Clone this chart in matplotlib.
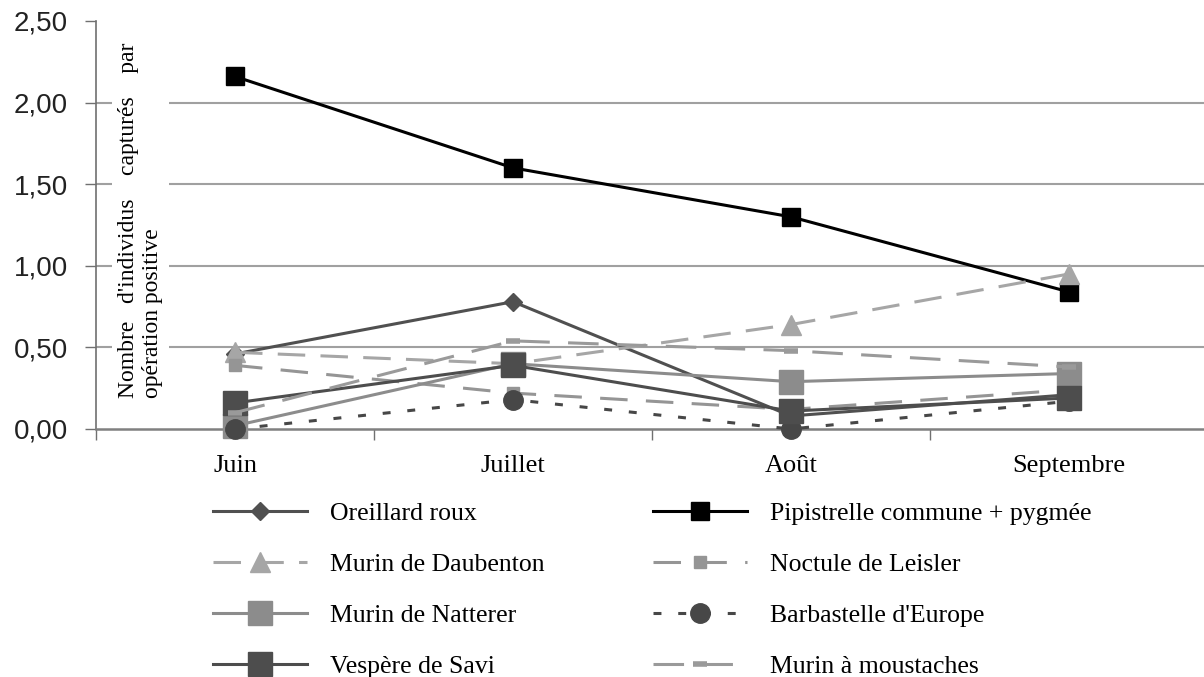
import numpy as np
import matplotlib
matplotlib.use('Agg')
import matplotlib.pyplot as plt
from matplotlib.ticker import FixedLocator, FuncFormatter

# données
mois = ['Juin', 'Juillet', 'Août', 'Septembre']
oreillard = [0.46, 0.78, 0.08, 0.21]
pipistrelle = [2.16, 1.60, 1.30, 0.84]
daubenton = [0.47, 0.40, 0.64, 0.95]
noctule = [0.39, 0.22, 0.12, 0.24]
natterer = [0.02, 0.40, 0.29, 0.34]
barbastelle = [0.00, 0.18, 0.00, 0.17]
vespere = [0.16, 0.39, 0.11, 0.19]
moustaches = [0.10, 0.54, 0.48, 0.38]

serif = 'Liberation Serif'
sans = 'Liberation Sans'

fig = plt.figure(figsize=(12.04, 6.77), dpi=100)
ax = fig.add_axes([96 / 1204, 248 / 677, 1112 / 1204, 408 / 677])
x = np.arange(len(mois))

lw = 2.2
# ordre de tracé = ordre Excel (les derniers passent dessus)
series = [
    ('Oreillard roux', oreillard, dict(color='#505050', ls='-', marker='D', ms=9)),
    ('Pipistrelle commune + pygmée', pipistrelle, dict(color='#000000', ls='-', marker='s', ms=13)),
    ('Murin de Daubenton', daubenton, dict(color='#a6a6a6', ls=(0, (9, 5)), marker='^', ms=14)),
    ('Noctule de Leisler', noctule, dict(color='#959595', ls=(0, (9, 6)), marker='s', ms=9)),
    ('Murin de Natterer', natterer, dict(color='#8c8c8c', ls='-', marker='s', ms=17)),
    ("Barbastelle d'Europe", barbastelle, dict(color='#474747', ls=(0, (2.6, 5.5)), marker='o', ms=14)),
    ('Vespère de Savi', vespere, dict(color='#4d4d4d', ls='-', marker='s', ms=17)),
    ('Murin à moustaches', moustaches, dict(color='#9a9a9a', ls=(0, (10, 6)), marker='_', ms=10, mew=4)),
]

handles = {}
for i, (nom, vals, st) in enumerate(series):
    h, = ax.plot(x, vals, lw=lw, label=nom, zorder=3 + i, clip_on=False, **st)
    handles[nom] = h

ax.set_xlim(-0.5, 3.5)
ax.set_ylim(0, 2.5)

# axe y
ax.yaxis.set_major_locator(FixedLocator([0, 0.5, 1.0, 1.5, 2.0, 2.5]))
ax.yaxis.set_major_formatter(FuncFormatter(lambda v, p: f"{v:.2f}".replace('.', ',')))
ax.tick_params(axis='y', direction='out', length=8, width=1, color='#707070', pad=12,
               labelsize=20, labelcolor='#222222')
for t in ax.get_yticklabels():
    t.set_fontfamily(sans)
ax.yaxis.grid(True, color='#a0a0a0', lw=1.5)
ax.get_ygridlines()[-1].set_visible(False)
ax.get_ygridlines()[0].set_visible(False)
ax.set_axisbelow(True)

# axe x : graduations entre les catégories, étiquettes au centre
ax.xaxis.set_major_locator(FixedLocator([-0.5, 0.5, 1.5, 2.5, 3.5]))
ax.xaxis.set_minor_locator(FixedLocator(x))
ax.set_xticklabels([])
ax.set_xticks(x, minor=True)
ax.set_xticklabels(mois, minor=True, fontfamily=serif, fontsize=19)
ax.tick_params(axis='x', which='major', direction='out', length=8, width=1, color='#707070')
ax.tick_params(axis='x', which='minor', length=0, pad=19)

for s in ['top', 'right']:
    ax.spines[s].set_visible(False)
ax.spines['left'].set_color('#707070')
ax.spines['left'].set_linewidth(1.2)
ax.spines['bottom'].set_color('#808080')
ax.spines['bottom'].set_linewidth(1.8)

# titre de l'axe y (ligne justifiée), dans le cadre, sur fond blanc
ax.text(0.0198, 0.076, "Nombre   d'individus    capturés    par\nopération positive",
        transform=ax.transAxes, rotation=90, ha='left', va='bottom',
        multialignment='left', fontfamily=serif, fontsize=17, linespacing=1.2,
        bbox=dict(facecolor='white', edgecolor='none', pad=4), zorder=2)

# légendes (deux colonnes)
gauche = ['Oreillard roux', 'Murin de Daubenton', 'Murin de Natterer', 'Vespère de Savi']
droite = ['Pipistrelle commune + pygmée', 'Noctule de Leisler', "Barbastelle d'Europe", 'Murin à moustaches']
for noms, x0 in [(gauche, 213), (droite, 653)]:
    fig.legend([handles[n] for n in noms], noms, loc='upper left',
               bbox_to_anchor=(x0 / 1204, 1 - 502 / 677), frameon=False,
               borderpad=0, borderaxespad=0, handlelength=3.66, handletextpad=0.9,
               labelspacing=1.09, prop=dict(family=serif, size=18.5))

fig.savefig('out.png', dpi=100)
